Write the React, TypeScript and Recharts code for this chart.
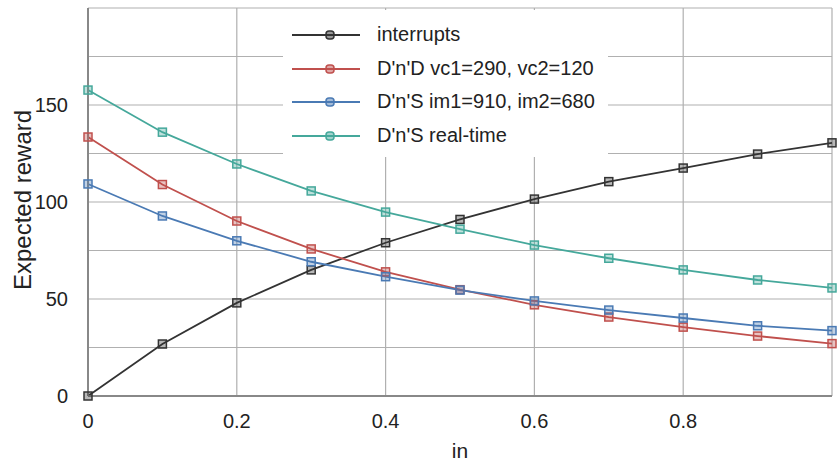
import React from 'react';
import { LineChart, Line, XAxis, YAxis, CartesianGrid } from 'recharts';

const inValues = [0, 0.1, 0.2, 0.3, 0.4, 0.5, 0.6, 0.7, 0.8, 0.9, 1.0];
const interrupts = [0, 26.8, 48, 65, 79, 91, 101.5, 110.5, 117.5, 124.7, 130.5];
const dndVc = [133.5, 109, 90.2, 75.8, 64, 54.8, 47, 40.7, 35.5, 30.9, 27];
const dnsIm = [109.3, 92.8, 80, 69.2, 61.5, 54.6, 49, 44.3, 40.2, 36.2, 33.7];
const dnsRealTime = [157.7, 136, 119.6, 105.7, 94.8, 86, 77.8, 71, 65, 59.8, 55.7];

const xTicks = [0, 0.2, 0.4, 0.6, 0.8, 1];
const yTicks = [0, 25, 50, 75, 100, 125, 150, 175, 200];
const yLabelled = [0, 50, 100, 150];

const data = inValues.map((x, i) => ({
  x,
  interrupts: interrupts[i],
  dnd: dndVc[i],
  dns: dnsIm[i],
  rt: dnsRealTime[i],
}));

const series = [
  { key: 'interrupts', name: 'interrupts', color: '#333333' },
  { key: 'dnd', name: "D'n'D vc1=290, vc2=120", color: '#c0504d' },
  { key: 'dns', name: "D'n'S im1=910, im2=680", color: '#4a7ab4' },
  { key: 'rt', name: "D'n'S real-time", color: '#45a89b' },
];

const FONT = '"Liberation Sans", Arial, sans-serif';

const SquareDot = (color: string) => (props: any) => {
  const { cx, cy, index } = props;
  if (cx == null || cy == null) return <g key={index} />;
  return (
    <rect
      key={index}
      x={cx - 4}
      y={cy - 4}
      width={8}
      height={8}
      fill={color}
      fillOpacity={0.35}
      stroke={color}
      strokeWidth={1.5}
    />
  );
};

// legend drawn as an overlay so it doesn't steal plot space
const LegendBox = () => (
  <div style={{ position: 'absolute', left: 283, top: 10, background: '#fff', width: 325, height: 147, fontFamily: FONT }}>
    {series.map((s, i) => (
      <div key={s.key} style={{ position: 'absolute', left: 0, top: 25 + i * 33.7 - 12, height: 24, width: 325 }}>
        <svg width={80} height={24} style={{ position: 'absolute', left: 0, top: 0 }}>
          <line x1={9} x2={77} y1={12} y2={12} stroke={s.color} strokeWidth={2} />
          <rect x={43} y={8} width={8} height={8} rx={3} fill={s.color} fillOpacity={0.5} stroke={s.color} strokeWidth={1.5} />
        </svg>
        <span style={{ position: 'absolute', left: 94, top: 0, fontSize: 20, color: '#222', whiteSpace: 'nowrap' }}>{s.name}</span>
      </div>
    ))}
  </div>
);

export default function App() {
  return (
    <div style={{ position: 'absolute', left: 0, top: 0, width: 838, height: 465, background: '#fff' }}>
      <LineChart width={838} height={465} data={data} margin={{ top: 8, right: 6, bottom: 29, left: 28 }}>
        <CartesianGrid stroke="#b0b0b0" strokeWidth={1.2} />
        <XAxis
          dataKey="x"
          type="number"
          domain={[0, 1]}
          ticks={xTicks}
          tickFormatter={(v: number) => (v >= 1 ? '' : String(v))}
          tickLine={false}
          axisLine={{ stroke: '#888', strokeWidth: 2 }}
          tick={{ fill: '#222', fontSize: 20, fontFamily: FONT }}
          tickMargin={12}
          height={40}
          label={{ value: 'in', position: 'insideBottom', offset: -22, fill: '#222', fontSize: 21, fontFamily: FONT }}
        />
        <YAxis
          type="number"
          domain={[0, 200]}
          ticks={yTicks}
          interval={0}
          tickFormatter={(v: number) => (yLabelled.includes(v) ? String(v) : '')}
          tickLine={false}
          axisLine={{ stroke: '#888', strokeWidth: 2 }}
          tick={{ fill: '#222', fontSize: 20, fontFamily: FONT }}
          tickMargin={14}
          width={60}
          label={{ value: 'Expected reward', angle: -90, position: 'insideLeft', dx: -11, dy: 88, fill: '#222', fontSize: 24, fontFamily: FONT }}
        />
        {series.map((s) => (
          <Line
            key={s.key}
            dataKey={s.key}
            name={s.name}
            stroke={s.color}
            strokeWidth={1.8}
            dot={SquareDot(s.color)}
            activeDot={false}
            isAnimationActive={false}
          />
        ))}
      </LineChart>
      <LegendBox />
    </div>
  );
}
